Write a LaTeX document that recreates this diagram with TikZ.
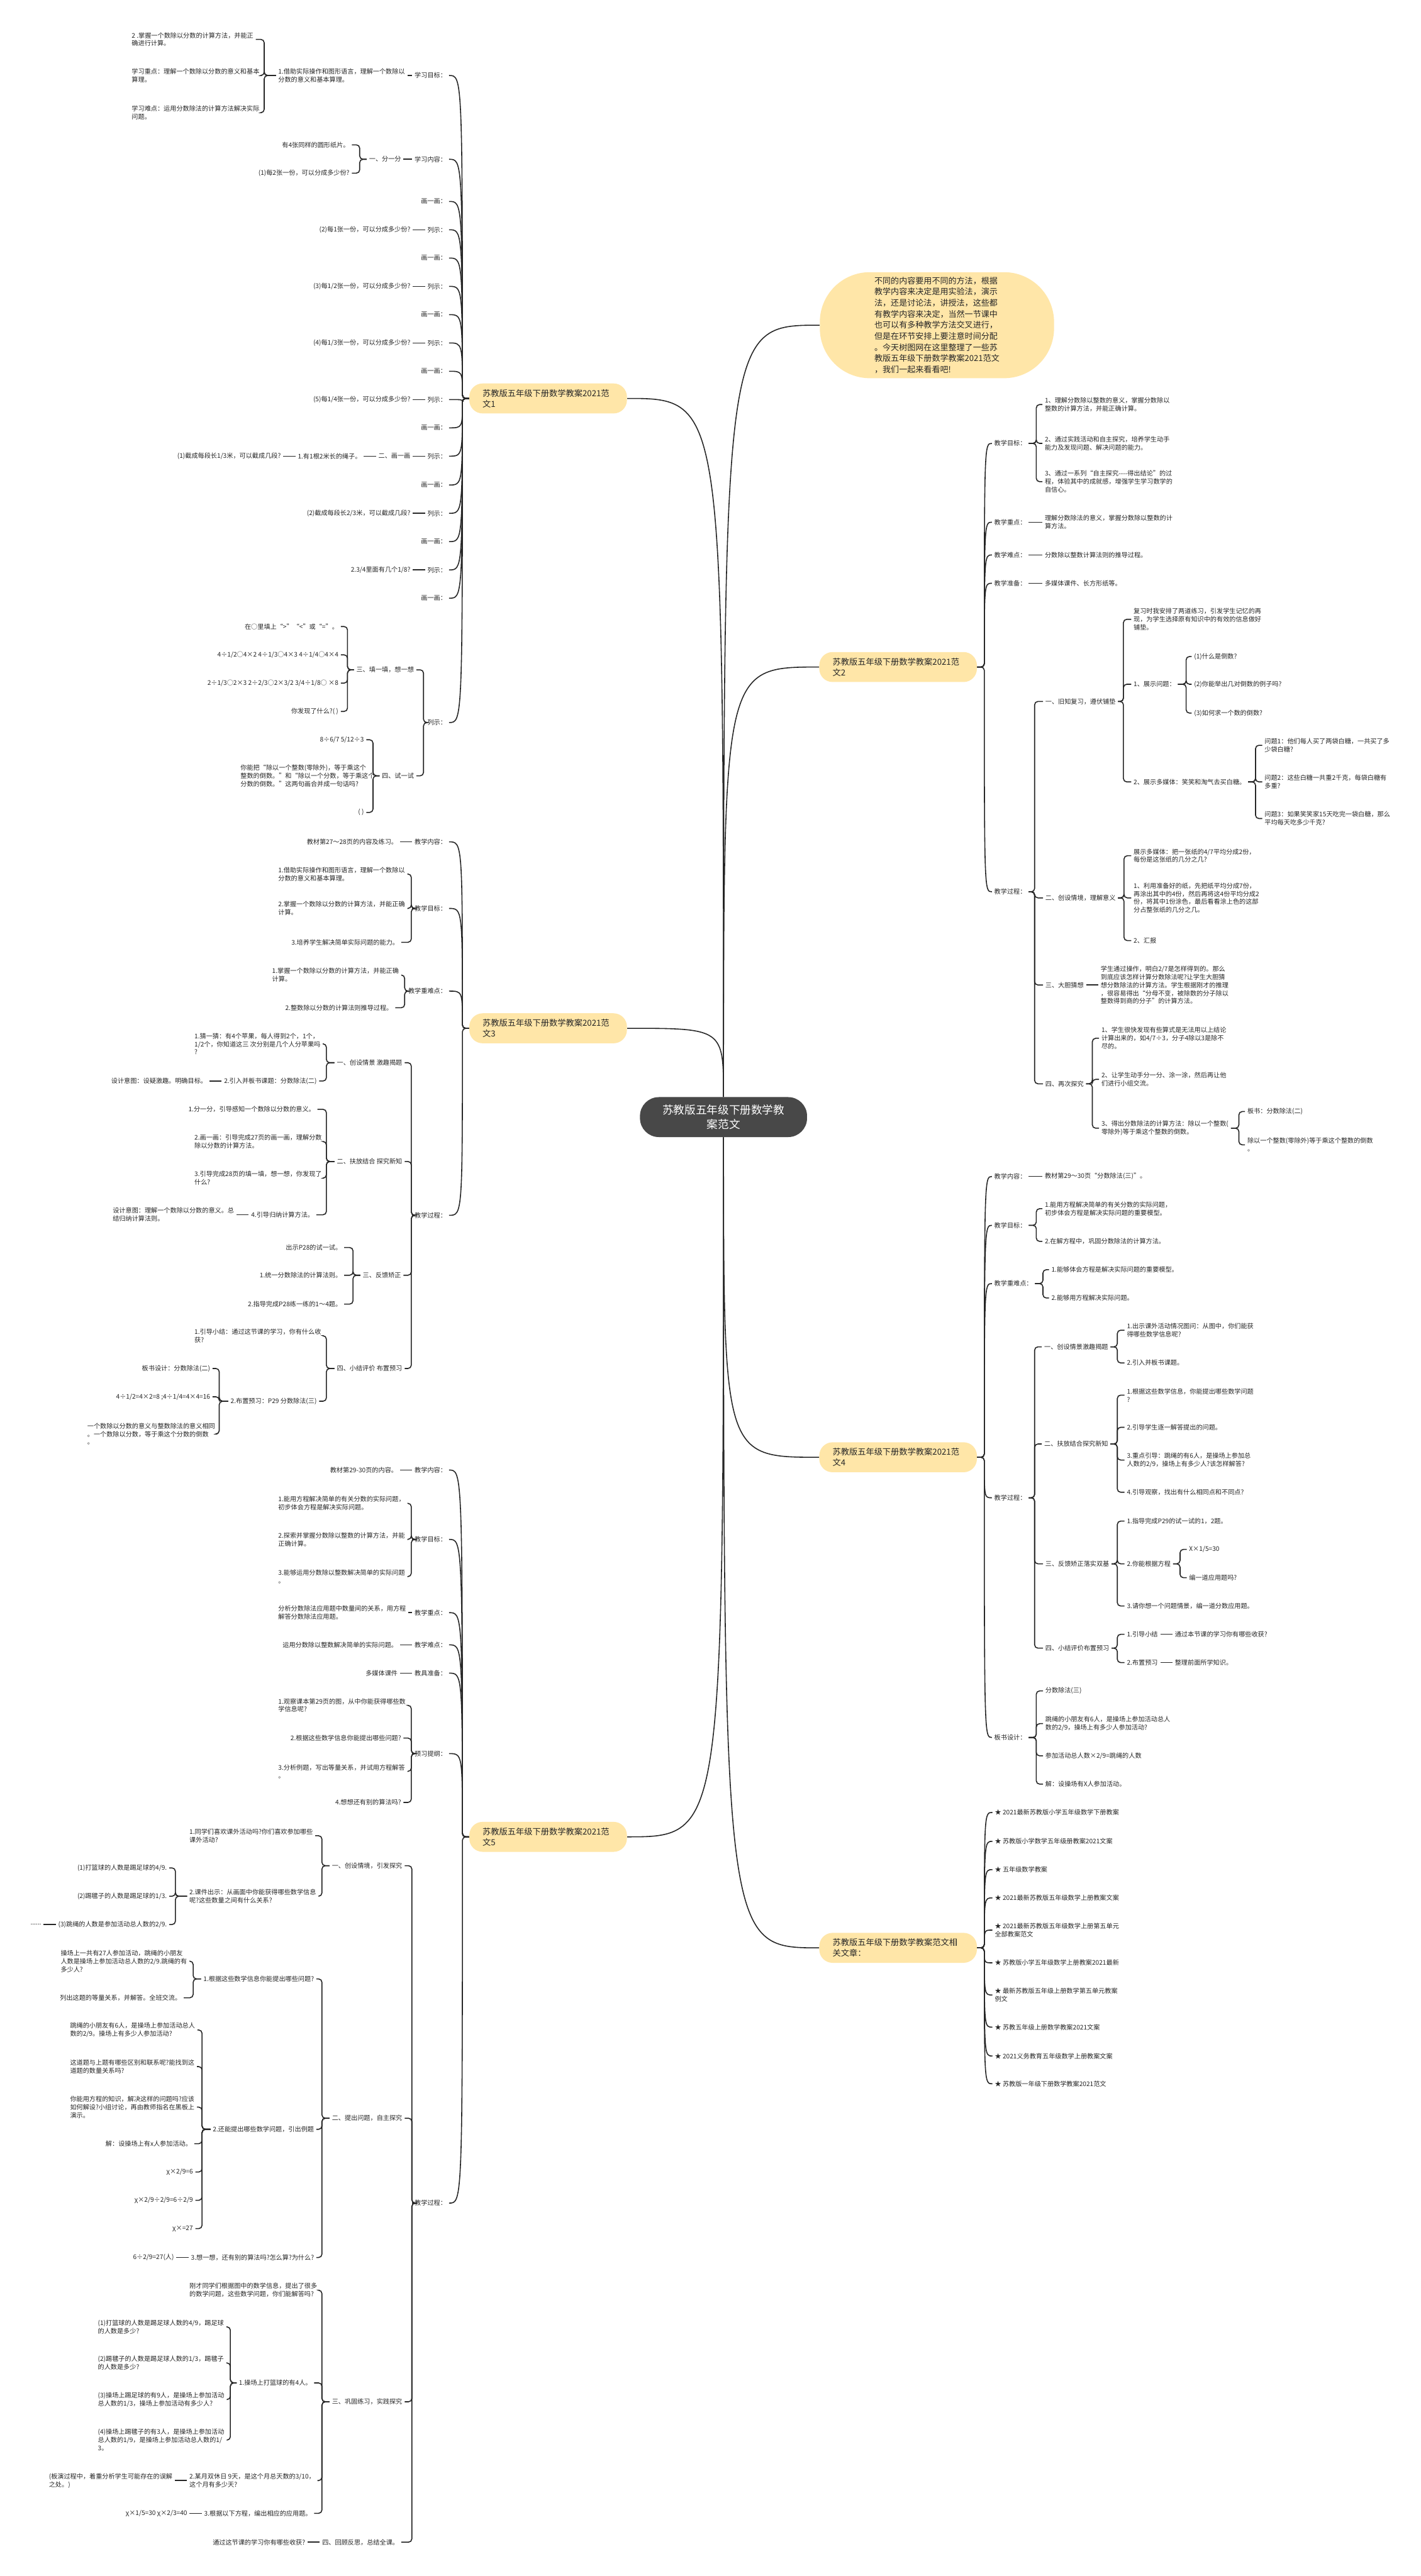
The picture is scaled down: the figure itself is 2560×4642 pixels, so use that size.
\documentclass[tikz,border=0pt]{standalone}
\usepackage{fontspec}
\setmainfont{Noto Sans CJK SC}
\usetikzlibrary{positioning}
\definecolor{topicfill}{RGB}{255,230,168}
\definecolor{hubgray}{RGB}{72,72,72}
\definecolor{inkgray}{RGB}{38,38,38}
\tikzset{hub/.style={
    rectangle,
    rounded corners=17pt,
    fill=hubgray,
    text=white,
    minimum width=150.5pt,
    minimum height=36pt,
    align=center,
    font=\fontsize{10}{13.3}\selectfont
}}
\tikzset{topic/.style={
    rectangle,
    rounded corners=12pt,
    fill=topicfill,
    text width=118pt,
    inner xsep=12pt,
    minimum height=27pt,
    align=left,
    font=\fontsize{7.5}{9.7}\selectfont
}}
\tikzset{blurb/.style={
    rectangle,
    rounded corners=45pt,
    fill=topicfill,
    minimum width=211pt,
    minimum height=95.5pt,
    align=left,
    font=\fontsize{7.4}{10}\selectfont
}}
\tikzset{leaf/.style={
    inner xsep=2pt,
    inner ysep=1pt,
    align=left,
    font=\fontsize{5.75}{7.3}\selectfont
}}
\tikzset{lleaf/.style={leaf, anchor=east}}
\tikzset{rleaf/.style={leaf, anchor=west}}
\tikzset{wire/.style={draw=inkgray, line width=0.9pt, rounded corners=3pt}}

\begin{document}
\begin{tikzpicture}[x=0.5pt, y=-0.5pt, text=inkgray]
    \useasboundingbox (0,0) rectangle (2560,4642);
    \fill [white] (0,0) rectangle (2560,4642);

    % centre and main topics
    \node (centre) [hub] at (1303.5,2013) {苏教版五年级下册数学教\\案范文};
    \node (intro) [blurb] at (1688,586) {不同的内容要用不同的方法，根据\\教学内容来决定是用实验法，演示\\法，还是讨论法，讲授法，这些都\\有教学内容来决定，当然一节课中\\也可以有多种教学方法交叉进行，\\但是在环节安排上要注意时间分配\\。今天树图网在这里整理了一些苏\\教版五年级下册数学教案2021范文\\，我们一起来看看吧!};
    \node (w1) [topic] at (987.5,718) {苏教版五年级下册数学教案2021范\\文1};
    \node (w2) [topic] at (1618,1202) {苏教版五年级下册数学教案2021范\\文2};
    \node (w3) [topic] at (987.5,1853) {苏教版五年级下册数学教案2021范\\文3};
    \node (w4) [topic] at (1618,2626) {苏教版五年级下册数学教案2021范\\文4};
    \node (w5) [topic] at (987.5,3310) {苏教版五年级下册数学教案2021范\\文5};
    \node (w6) [topic] at (1618,3510) {苏教版五年级下册数学教案范文相\\关文章：};

    \foreach \t in {w1,w3}
        \draw [wire] (centre.north) .. controls (centre.north |- \t.east) .. (\t.east);
    \draw [wire] (centre.south) .. controls (centre.south |- w5.east) .. (w5.east);
    \foreach \t in {intro,w2}
        \draw [wire] (centre.north) .. controls (centre.north |- \t.west) .. (\t.west);
    \foreach \t in {w4,w6}
        \draw [wire] (centre.south) .. controls (centre.south |- \t.west) .. (\t.west);

    % Fan wen 1
    \node (a1) [lleaf] at (809,136) {学习目标：};
    \node (a2) [lleaf] at (809,287) {学习内容：};
    \node (a3) [lleaf] at (809,363) {画一画：};
    \node (a4) [lleaf] at (809,414) {列示：};
    \node (a5) [lleaf] at (809,465) {画一画：};
    \node (a6) [lleaf] at (809,516) {列示：};
    \node (a7) [lleaf] at (809,567) {画一画：};
    \node (a8) [lleaf] at (809,618) {列示：};
    \node (a9) [lleaf] at (809,669) {画一画：};
    \node (a10) [lleaf] at (809,720) {列示：};
    \node (a11) [lleaf] at (809,771) {画一画：};
    \node (a12) [lleaf] at (809,822) {列示：};
    \node (a13) [lleaf] at (809,874) {画一画：};
    \node (a14) [lleaf] at (809,925) {列示：};
    \node (a15) [lleaf] at (809,976) {画一画：};
    \node (a16) [lleaf] at (809,1027) {列示：};
    \node (a17) [lleaf] at (809,1078) {画一画：};
    \node (a18) [lleaf] at (809,1302) {列示：};
    \coordinate (w1j) at ([xshift=-6pt]w1.west);
    \foreach \i in {1,...,18}
        \draw [wire] (w1.west) -- (w1j) .. controls (w1j |- a\i.east) .. (a\i.east);

    \node (b1) [rleaf] at (497,136) {1.借助实际操作和图形语言，理解一个数除以\\分数的意义和基本算理。};
    \node (c1) [rleaf] at (233,71) {2 .掌握一个数除以分数的计算方法，并能正\\确进行计算。};
    \node (c2) [rleaf] at (233,136) {学习重点：理解一个数除以分数的意义和基本\\算理。};
    \node (c3) [rleaf] at (233,203) {学习难点：运用分数除法的计算方法解决实际\\问题。};
    \node (b2) [lleaf] at (727,287) {一、分一分};
    \node (c4) [lleaf] at (634,261) {有4张同样的圆形纸片。};
    \node (c5) [lleaf] at (634,312) {(1)每2张一份，可以分成多少份?};
    \node (b4) [lleaf, left=11pt of a4] {(2)每1张一份，可以分成多少份?};
    \node (b6) [lleaf, left=11pt of a6] {(3)每1/2张一份，可以分成多少份?};
    \node (b8) [lleaf, left=11pt of a8] {(4)每1/3张一份，可以分成多少份?};
    \node (b10) [lleaf, left=11pt of a10] {(5)每1/4张一份，可以分成多少份?};
    \node (b12) [lleaf, left=11pt of a12] {二、画一画};
    \node (c12) [lleaf, left=11pt of b12] {1.有1根2米长的绳子。};
    \node (d12) [lleaf, left=11pt of c12] {(1)截成每段长1/3米，可以截成几段?};
    \node (b14) [lleaf, left=11pt of a14] {(2)截成每段长2/3米，可以截成几段?};
    \node (b16) [lleaf, left=11pt of a16] {2.3/4里面有几个1/8?};
    \node (b18a) [lleaf] at (750,1207) {三、填一填，想一想};
    \node (c18a) [lleaf] at (614,1129) {在○里填上“>”“<”或“=”。};
    \node (c18b) [lleaf] at (614,1180) {4÷1/2○4×2 4÷1/3○4×3 4÷1/4○4×4};
    \node (c18c) [lleaf] at (614,1231) {2÷1/3○2×3 2÷2/3○2×3/2 3/4÷1/8○ ×8};
    \node (c18d) [lleaf] at (614,1282) {你发现了什么?( )};
    \node (b18b) [lleaf] at (750,1398) {四、试一试};
    \node (c18e) [lleaf] at (660,1333) {8÷6/7 5/12÷3};
    \node (c18f) [rleaf] at (429,1398) {你能把“除以一个整数(零除外)，等于乘这个\\整数的倒数。”和“除以一个分数，等于乘这个\\分数的倒数。”这两句画合并成一句话吗?};
    \node (c18g) [lleaf] at (660,1464) {( )};

    \draw [wire] (b1.east) -- (a1.west);
    \foreach \c in {c1,c2,c3} \draw [wire] (\c.east) -- (476,0 |- \c.east) |- (b1.west);
    \draw [wire] (b2.east) -- (a2.west);
    \foreach \c in {c4,c5} \draw [wire] (\c.east) -- (648,0 |- \c.east) |- (b2.west);
    \foreach \i in {4,6,8,10,12,14,16} \draw [wire] (b\i.east) -- (a\i.west);
    \draw [wire] (c12.east) -- (b12.west);
    \draw [wire] (d12.east) -- (c12.west);
    \foreach \c in {b18a,b18b} \draw [wire] (\c.east) -- (763,0 |- \c.east) |- (a18.west);
    \foreach \c in {c18a,c18b,c18c,c18d} \draw [wire] (\c.east) -- (626,0 |- \c.east) |- (b18a.west);
    \foreach \c in {c18e,c18f,c18g} \draw [wire] (\c.east) -- (672,0 |- \c.east) |- (b18b.west);

    % Fan wen 3
    \node (e1) [lleaf] at (809,1517) {教学内容：};
    \node (e2) [lleaf] at (809,1637) {教学目标：};
    \node (e3) [lleaf] at (809,1786) {教学重难点：};
    \node (e4) [lleaf] at (809,2190) {教学过程：};
    \coordinate (w3j) at ([xshift=-6pt]w3.west);
    \foreach \i in {1,...,4}
        \draw [wire] (w3.west) -- (w3j) .. controls (w3j |- e\i.east) .. (e\i.east);

    \node (f1) [lleaf, left=11pt of e1] {教材第27～28页的内容及练习。};
    \node (f2a) [rleaf] at (497,1575) {1.借助实际操作和图形语言，理解一个数除以\\分数的意义和基本算理。};
    \node (f2b) [rleaf] at (497,1637) {2.掌握一个数除以分数的计算方法，并能正确\\计算。};
    \node (f2c) [lleaf] at (723,1698) {3.培养学生解决简单实际问题的能力。};
    \node (f3a) [rleaf] at (486,1757) {1.掌握一个数除以分数的计算方法，并能正确\\计算。};
    \node (f3b) [lleaf] at (712,1816) {2.整数除以分数的计算法则推导过程。};
    \node (f4a) [lleaf] at (729,1915) {一、创设情景 激趣揭题};
    \node (g1) [rleaf] at (346,1881) {1.猜一猜：有4个苹果，每人得到2个，1个，\\1/2个，你知道这三 次分别是几个人分苹果吗\\?};
    \node (g2) [lleaf] at (575,1948) {2.引入并板书课题：分数除法(二)};
    \node (h2) [lleaf, left=11pt of g2] {设计意图：设疑激趣。明确目标。};
    \node (f4b) [lleaf] at (729,2093) {二、扶放结合 探究新知};
    \node (g3) [lleaf] at (572,1999) {1.分一分，引导感知一个数除以分数的意义。};
    \node (g4) [rleaf] at (346,2057) {2.画一画：引导完成27页的画一画，理解分数\\除以分数的计算方法。};
    \node (g5) [rleaf] at (346,2123) {3.引导完成28页的填一填，想一想，你发现了\\什么?};
    \node (g6) [lleaf] at (570,2189) {4.引导归纳计算方法。};
    \node (h6) [lleaf, left=11pt of g6] {设计意图：理解一个数除以分数的意义。总\\结归纳计算法则。};
    \node (f4c) [lleaf] at (727,2298) {三、反馈矫正};
    \node (g7) [lleaf] at (620,2248) {出示P28的试一试。};
    \node (g8) [lleaf] at (620,2298) {1.统一分数除法的计算法则。};
    \node (g9) [lleaf] at (620,2350) {2.指导完成P28练一练的1～4题。};
    \node (f4d) [lleaf] at (729,2466) {四、小结评价 布置预习};
    \node (g10) [rleaf] at (346,2407) {1.引导小结：通过这节课的学习，你有什么收\\获?};
    \node (g11) [lleaf] at (575,2525) {2.布置预习：P29 分数除法(三)};
    \node (h11a) [lleaf] at (383,2466) {板书设计：分数除法(二)};
    \node (h11b) [lleaf] at (383,2517) {4÷1/2=4×2=8 ;4÷1/4=4×4=16};
    \node (h11c) [rleaf] at (153,2584) {一个数除以分数的意义与整数除法的意义相同\\。一个数除以分数，等于乘这个分数的倒数\\。};

    \draw [wire] (f1.east) -- (e1.west);
    \foreach \c in {f2a,f2b,f2c} \draw [wire] (\c.east) -- (741,0 |- \c.east) |- (e2.west);
    \foreach \c in {f3a,f3b} \draw [wire] (\c.east) -- (729,0 |- \c.east) |- (e3.west);
    \foreach \c in {f4a,f4b,f4c,f4d} \draw [wire] (\c.east) -- (741,0 |- \c.east) |- (e4.west);
    \foreach \c in {g1,g2} \draw [wire] (\c.east) -- (588,0 |- \c.east) |- (f4a.west);
    \foreach \c in {g3,g4,g5,g6} \draw [wire] (\c.east) -- (588,0 |- \c.east) |- (f4b.west);
    \foreach \c in {g7,g8,g9} \draw [wire] (\c.east) -- (636,0 |- \c.east) |- (f4c.west);
    \foreach \c in {g10,g11} \draw [wire] (\c.east) -- (588,0 |- \c.east) |- (f4d.west);
    \foreach \c in {h11a,h11b,h11c} \draw [wire] (\c.east) -- (395,0 |- \c.east) |- (g11.west);
    \draw [wire] (h2.east) -- (g2.west);
    \draw [wire] (h6.east) -- (g6.west);

    % Fan wen 5
    \node (i1) [lleaf] at (809,2649) {教学内容：};
    \node (i2) [lleaf] at (809,2774) {教学目标：};
    \node (i3) [lleaf] at (809,2906) {教学重点：};
    \node (i4) [lleaf] at (809,2964) {教学难点：};
    \node (i5) [lleaf] at (809,3015) {教具准备：};
    \node (i6) [lleaf] at (809,3160) {预习提纲：};
    \node (i7) [lleaf] at (809,3970) {教学过程：};
    \coordinate (w5j) at ([xshift=-6pt]w5.west);
    \foreach \i in {1,...,7}
        \draw [wire] (w5.west) -- (w5j) .. controls (w5j |- i\i.east) .. (i\i.east);

    \node (j1) [lleaf, left=11pt of i1] {教材第29-30页的内容。};
    \node (j2a) [rleaf] at (497,2709) {1.能用方程解决简单的有关分数的实际问题，\\初步体会方程是解决实际问题。};
    \node (j2b) [rleaf] at (497,2774) {2.探索并掌握分数除以整数的计算方法，并能\\正确计算。};
    \node (j2c) [rleaf] at (497,2841) {3.能够运用分数除以整数解决简单的实际问题\\。};
    \node (j3) [rleaf] at (497,2906) {分析分数除法应用题中数量间的关系，用方程\\解答分数除法应用题。};
    \node (j4) [lleaf, left=11pt of i4] {运用分数除以整数解决简单的实际问题。};
    \node (j5) [lleaf, left=11pt of i5] {多媒体课件};
    \node (j6a) [rleaf] at (497,3073) {1.观察课本第29页的图，从中你能获得哪些数\\学信息呢?};
    \node (j6b) [lleaf] at (727,3132) {2.根据这些数学信息你能提出哪些问题?};
    \node (j6c) [rleaf] at (497,3192) {3.分析例题，写出等量关系，并试用方程解答\\。};
    \node (j6d) [lleaf] at (727,3248) {4.想想还有别的算法吗?};
    \node (k1) [lleaf] at (729,3362) {一、创设情境，引发探究};
    \node (l1) [rleaf] at (337,3308) {1.同学们喜欢课外活动吗?你们喜欢参加哪些\\课外活动?};
    \node (l2) [rleaf] at (337,3417) {2.课件出示：从画面中你能获得哪些数学信息\\呢?这些数量之间有什么关系?};
    \node (m1) [lleaf] at (305,3366) {(1)打篮球的人数是踢足球的4/9.};
    \node (m2) [lleaf] at (305,3417) {(2)踢毽子的人数是踢足球的1/3.};
    \node (m3) [lleaf] at (305,3468) {(3)跳绳的人数是参加活动总人数的2/9.};
    \node (n3) [lleaf, left=11pt of m3] {......};
    \node (k2) [lleaf] at (729,3817) {二、提出问题，自主探究};
    \node (l3) [lleaf] at (570,3566) {1.根据这些数学信息你能提出哪些问题?};
    \node (m4) [rleaf] at (105,3534) {操场上一共有27人参加活动，跳绳的小朋友\\人数是操场上参加活动总人数的2/9.跳绳的有\\多少人?};
    \node (m5) [lleaf] at (331,3600) {列出这题的等量关系，并解答。全班交流。};
    \node (l4) [lleaf] at (570,3837) {2.还能提出哪些数学问题，引出例题};
    \node (m6) [rleaf] at (122,3658) {跳绳的小朋友有6人，是操场上参加活动总人\\数的2/9。操场上有多少人参加活动?};
    \node (m7) [rleaf] at (122,3724) {这道题与上题有哪些区别和联系呢?能找到这\\道题的数量关系吗?};
    \node (m8) [rleaf] at (122,3797) {你能用方程的知识，解决这样的问题吗?应该\\如何解设?小组讨论，再由教师指名在黑板上\\演示。};
    \node (m9) [lleaf] at (350,3863) {解：设操场上有x人参加活动。};
    \node (m10) [lleaf] at (352,3914) {χ×2/9=6};
    \node (m11) [lleaf] at (352,3965) {χ×2/9÷2/9=6÷2/9};
    \node (m12) [lleaf] at (352,4016) {χ×=27};
    \node (l5) [lleaf] at (570,4068) {3.想一想，还有别的算法吗?怎么算?为什么?};
    \node (m13) [lleaf, left=11pt of l5] {6÷2/9=27(人)};
    \node (k3) [lleaf] at (729,4328) {三、巩固练习，实践探究};
    \node (l6) [rleaf] at (337,4127) {刚才同学们根据图中的数学信息，提出了很多\\的数学问题，这些数学问题，你们能解答吗?};
    \node (l7) [lleaf] at (566,4294) {1.操场上打篮球的有4人。};
    \node (m14) [rleaf] at (172,4193) {(1)打篮球的人数是踢足球人数的4/9，踢足球\\的人数是多少?};
    \node (m15) [rleaf] at (172,4258) {(2)踢毽子的人数是踢足球人数的1/3，踢毽子\\的人数是多少?};
    \node (m16) [rleaf] at (172,4324) {(3)操场上踢足球的有9人，是操场上参加活动\\总人数的1/3，操场上参加活动有多少人?};
    \node (m17) [rleaf] at (172,4397) {(4)操场上踢毽子的有3人，是操场上参加活动\\总人数的1/9，是操场上参加活动总人数的1/\\3。};
    \node (l8) [rleaf] at (337,4470) {2.某月双休日 9天，是这个月总天数的3/10，\\这个月有多少天?};
    \node (m18) [lleaf, left=11pt of l8] {(板演过程中，着重分析学生可能存在的误解\\之处。)};
    \node (l9) [lleaf] at (566,4529) {3.根据以下方程，编出相应的应用题。};
    \node (m19) [lleaf, left=11pt of l9] {χ×1/5=30 χ×2/3=40};
    \node (k4) [lleaf] at (723,4581) {四、回顾反思，总结全课。};
    \node (l10) [lleaf, left=11pt of k4] {通过这节课的学习你有哪些收获?};

    \draw [wire] (j1.east) -- (i1.west);
    \foreach \c in {j2a,j2b,j2c} \draw [wire] (\c.east) -- (741,0 |- \c.east) |- (i2.west);
    \draw [wire] (j3.east) -- (i3.west);
    \draw [wire] (j4.east) -- (i4.west);
    \draw [wire] (j5.east) -- (i5.west);
    \foreach \c in {j6a,j6b,j6c,j6d} \draw [wire] (\c.east) -- (741,0 |- \c.east) |- (i6.west);
    \foreach \c in {k1,k2,k3,k4} \draw [wire] (\c.east) -- (742,0 |- \c.east) |- (i7.west);
    \foreach \c in {l1,l2} \draw [wire] (\c.east) -- (580,0 |- \c.east) |- (k1.west);
    \foreach \c in {m1,m2,m3} \draw [wire] (\c.east) -- (316,0 |- \c.east) |- (l2.west);
    \draw [wire] (n3.east) -- (m3.west);
    \foreach \c in {l3,l4,l5} \draw [wire] (\c.east) -- (580,0 |- \c.east) |- (k2.west);
    \foreach \c in {m4,m5} \draw [wire] (\c.east) -- (348,0 |- \c.east) |- (l3.west);
    \foreach \c in {m6,m7,m8,m9,m10,m11,m12} \draw [wire] (\c.east) -- (364,0 |- \c.east) |- (l4.west);
    \draw [wire] (m13.east) -- (l5.west);
    \foreach \c in {l6,l7,l8,l9} \draw [wire] (\c.east) -- (580,0 |- \c.east) |- (k3.west);
    \foreach \c in {m14,m15,m16,m17} \draw [wire] (\c.east) -- (415,0 |- \c.east) |- (l7.west);
    \draw [wire] (m18.east) -- (l8.west);
    \draw [wire] (m19.east) -- (l9.west);
    \draw [wire] (l10.east) -- (k4.west);

    % Fan wen 2
    \node (p1) [rleaf] at (1787,799) {教学目标：};
    \node (p2) [rleaf] at (1787,941) {教学重点：};
    \node (p3) [rleaf] at (1787,1000) {教学难点：};
    \node (p4) [rleaf] at (1787,1051) {教学准备：};
    \node (p5) [rleaf] at (1787,1607) {教学过程：};
    \coordinate (w2j) at ([xshift=6.5pt]w2.east);
    \foreach \i in {1,...,5}
        \draw [wire] (w2.east) -- (w2j) .. controls (w2j |- p\i.west) .. (p\i.west);

    \node (q1a) [rleaf] at (1878,729) {1、理解分数除以整数的意义，掌握分数除以\\整数的计算方法，并能正确计算。};
    \node (q1b) [rleaf] at (1878,799) {2、通过实践活动和自主探究，培养学生动手\\能力及发现问题、解决问题的能力。};
    \node (q1c) [rleaf] at (1878,868) {3、通过一系列“自主探究-{}-{}-{}-得出结论”的过\\程，体验其中的成就感，增强学生学习数学的\\自信心。};
    \node (q2) [rleaf] at (1878,941) {理解分数除法的意义，掌握分数除以整数的计\\算方法。};
    \node (q3) [rleaf] at (1878,1000) {分数除以整数计算法则的推导过程。};
    \node (q4) [rleaf] at (1878,1051) {多媒体课件、长方形纸等。};
    \node (r1) [rleaf] at (1879,1264) {一、旧知复习，遵伏铺垫};
    \node (s1) [rleaf] at (2038,1116) {复习时我安排了两道练习，引发学生记忆的再\\现，为学生选择原有知识中的有效的信息做好\\铺垫。};
    \node (s2) [rleaf] at (2038,1233) {1、展示问题：};
    \node (t1) [rleaf] at (2147,1183) {(1)什么是倒数?};
    \node (t2) [rleaf] at (2147,1233) {(2)你能举出几对倒数的例子吗?};
    \node (t3) [rleaf] at (2147,1285) {(3)如何求一个数的倒数?};
    \node (s3) [rleaf] at (2038,1409) {2、展示多媒体：笑笑和淘气去买白糖。};
    \node (t4) [rleaf] at (2274,1343) {问题1：他们每人买了两袋白糖，一共买了多\\少袋白糖?};
    \node (t5) [rleaf] at (2274,1409) {问题2：这些白糖一共重2千克，每袋白糖有\\多重?};
    \node (t6) [rleaf] at (2274,1475) {问题3：如果笑笑家15天吃完一袋白糖，那么\\平均每天吃多少千克?};
    \node (r2) [rleaf] at (1879,1618) {二、创设情境，理解意义};
    \node (s4) [rleaf] at (2038,1542) {展示多媒体：把一张纸的4/7平均分成2份，\\每份是这张纸的几分之几?};
    \node (s5) [rleaf] at (2038,1618) {1、利用准备好的纸，先把纸平均分成7份，\\再涂出其中的4份，然后再将这4份平均分成2\\份，将其中1份涂色，最后看看涂上色的这部\\分占整张纸的几分之几。};
    \node (s6) [rleaf] at (2038,1695) {2、汇报};
    \node (r3) [rleaf] at (1879,1775) {三、大胆猜想};
    \node (s7) [rleaf, right=11pt of r3] {学生通过操作，明白2/7是怎样得到的。那么\\到底应该怎样计算分数除法呢?让学生大胆猜\\想分数除法的计算方法。学生根据刚才的推理\\，很容易得出“分母不变，被除数的分子除以\\整数得到商的分子”的计算方法。};
    \node (r4) [rleaf] at (1879,1953) {四、再次探究};
    \node (s8) [rleaf] at (1980,1871) {1、学生很快发现有些算式是无法用以上结论\\计算出来的，如4/7÷3，分子4除以3是除不\\尽的。};
    \node (s9) [rleaf] at (1980,1945) {2、让学生动手分一分、涂一涂，然后再让他\\们进行小组交流。};
    \node (s10) [rleaf] at (1980,2033) {3、得出分数除法的计算方法：除以一个整数(\\零除外)等于乘这个整数的倒数。};
    \node (t7) [rleaf] at (2243,2003) {板书：分数除法(二)};
    \node (t8) [rleaf] at (2243,2063) {除以一个整数(零除外)等于乘这个整数的倒数\\。};

    \foreach \c in {q1a,q1b,q1c} \draw [wire] (\c.west) -- (1867,0 |- \c.west) |- (p1.east);
    \draw [wire] (p2.east) -- (q2.west);
    \draw [wire] (p3.east) -- (q3.west);
    \draw [wire] (p4.east) -- (q4.west);
    \foreach \c in {r1,r2,r3,r4} \draw [wire] (\c.west) -- (1864,0 |- \c.west) |- (p5.east);
    \foreach \c in {s1,s2,s3} \draw [wire] (\c.west) -- (2024,0 |- \c.west) |- (r1.east);
    \foreach \c in {t1,t2,t3} \draw [wire] (\c.west) -- (2137,0 |- \c.west) |- (s2.east);
    \foreach \c in {t4,t5,t6} \draw [wire] (\c.west) -- (2262,0 |- \c.west) |- (s3.east);
    \foreach \c in {s4,s5,s6} \draw [wire] (\c.west) -- (2025,0 |- \c.west) |- (r2.east);
    \draw [wire] (r3.east) -- (s7.west);
    \foreach \c in {s8,s9,s10} \draw [wire] (\c.west) -- (1968,0 |- \c.west) |- (r4.east);
    \foreach \c in {t7,t8} \draw [wire] (\c.west) -- (2232,0 |- \c.west) |- (s10.east);

    % Fan wen 4
    \node (u1) [rleaf] at (1787,2120) {教学内容：};
    \node (u2) [rleaf] at (1787,2208) {教学目标：};
    \node (u3) [rleaf] at (1787,2313) {教学重难点：};
    \node (u4) [rleaf] at (1787,2699) {教学过程：};
    \node (u5) [rleaf] at (1787,3131) {板书设计：};
    \coordinate (w4j) at ([xshift=6.5pt]w4.east);
    \foreach \i in {1,...,5}
        \draw [wire] (w4.east) -- (w4j) .. controls (w4j |- u\i.west) .. (u\i.west);

    \node (v1) [rleaf] at (1878,2120) {教材第29～30页“分数除法(三)”。};
    \node (v2a) [rleaf] at (1878,2178) {1.能用方程解决简单的有关分数的实际问题，\\初步体会方程是解决实际问题的重要模型。};
    \node (v2b) [rleaf] at (1878,2237) {2.在解方程中，巩固分数除法的计算方法。};
    \node (v3a) [rleaf] at (1890,2288) {1.能够体会方程是解决实际问题的重要模型。};
    \node (v3b) [rleaf] at (1890,2339) {2.能够用方程解决实际问题。};
    \node (v4a) [rleaf] at (1877,2427) {一、创设情景激趣揭题};
    \node (x1) [rleaf] at (2026,2397) {1.出示课外活动情况图问：从图中，你们能获\\得哪些数学信息呢?};
    \node (x2) [rleaf] at (2026,2456) {2.引入并板书课题。};
    \node (v4b) [rleaf] at (1877,2602) {二、扶放结合探究新知};
    \node (x3) [rleaf] at (2026,2514) {1.根据这些数学信息，你能提出哪些数学问题\\?};
    \node (x4) [rleaf] at (2026,2572) {2.引导学生逐一解答提出的问题。};
    \node (x5) [rleaf] at (2026,2631) {3.重点引导：跳绳的有6人，是操场上参加总\\人数的2/9，操场上有多少人?该怎样解答?};
    \node (x6) [rleaf] at (2026,2689) {4.引导观察，找出有什么相同点和不同点?};
    \node (v4c) [rleaf] at (1879,2818) {三、反馈矫正落实双基};
    \node (x7) [rleaf] at (2026,2741) {1.指导完成P29的试一试的1，2题。};
    \node (x8) [rleaf] at (2026,2818) {2.你能根据方程};
    \node (y1) [rleaf] at (2138,2792) {X×1/5=30};
    \node (y2) [rleaf] at (2138,2843) {编一道应用题吗?};
    \node (x9) [rleaf] at (2026,2894) {3.请你想一个问题情景，编一道分数应用题。};
    \node (v4d) [rleaf] at (1879,2970) {四、小结评价布置预习};
    \node (x10) [rleaf] at (2026,2945) {1.引导小结};
    \node (y3) [rleaf, right=11pt of x10] {通过本节课的学习你有哪些收获?};
    \node (x11) [rleaf] at (2026,2996) {2.布置预习};
    \node (y4) [rleaf, right=11pt of x11] {整理前面所学知识。};
    \node (v5a) [rleaf] at (1879,3047) {分数除法(三)};
    \node (v5b) [rleaf] at (1879,3106) {跳绳的小朋友有6人，是操场上参加活动总人\\数的2/9，操场上有多少人参加活动?};
    \node (v5c) [rleaf] at (1879,3164) {参加活动总人数×2/9=跳绳的人数};
    \node (v5d) [rleaf] at (1879,3215) {解：设操场有X人参加活动。};

    \draw [wire] (u1.east) -- (v1.west);
    \foreach \c in {v2a,v2b} \draw [wire] (\c.west) -- (1867,0 |- \c.west) |- (u2.east);
    \foreach \c in {v3a,v3b} \draw [wire] (\c.west) -- (1879,0 |- \c.west) |- (u3.east);
    \foreach \c in {v4a,v4b,v4c,v4d} \draw [wire] (\c.west) -- (1864,0 |- \c.west) |- (u4.east);
    \foreach \c in {x1,x2} \draw [wire] (\c.west) -- (2013,0 |- \c.west) |- (v4a.east);
    \foreach \c in {x3,x4,x5,x6} \draw [wire] (\c.west) -- (2013,0 |- \c.west) |- (v4b.east);
    \foreach \c in {x7,x8,x9} \draw [wire] (\c.west) -- (2013,0 |- \c.west) |- (v4c.east);
    \foreach \c in {y1,y2} \draw [wire] (\c.west) -- (2126,0 |- \c.west) |- (x8.east);
    \foreach \c in {x10,x11} \draw [wire] (\c.west) -- (2013,0 |- \c.west) |- (v4d.east);
    \draw [wire] (x10.east) -- (y3.west);
    \draw [wire] (x11.east) -- (y4.west);
    \foreach \c in {v5a,v5b,v5c,v5d} \draw [wire] (\c.west) -- (1867,0 |- \c.west) |- (u5.east);

    % related articles
    \node (z1) [rleaf] at (1788,3266) {★ 2021最新苏教版小学五年级数学下册教案};
    \node (z2) [rleaf] at (1788,3318) {★ 苏教版小学数学五年级册教案2021文案};
    \node (z3) [rleaf] at (1788,3369) {★ 五年级数学教案};
    \node (z4) [rleaf] at (1788,3420) {★ 2021最新苏教版五年级数学上册教案文案};
    \node (z5) [rleaf] at (1788,3478) {★ 2021最新苏教版五年级数学上册第五单元\\全部教案范文};
    \node (z6) [rleaf] at (1788,3537) {★ 苏教版小学五年级数学上册教案2021最新};
    \node (z7) [rleaf] at (1788,3595) {★ 最新苏教版五年级上册数学第五单元教案\\例文};
    \node (z8) [rleaf] at (1788,3653) {★ 苏教五年级上册数学教案2021文案};
    \node (z9) [rleaf] at (1788,3705) {★ 2021义务教育五年级数学上册教案文案};
    \node (z10) [rleaf] at (1788,3755) {★ 苏教版一年级下册数学教案2021范文};
    \coordinate (w6j) at ([xshift=6.5pt]w6.east);
    \foreach \i in {1,...,10}
        \draw [wire] (w6.east) -- (w6j) .. controls (w6j |- z\i.west) .. (z\i.west);
\end{tikzpicture}
\end{document}
